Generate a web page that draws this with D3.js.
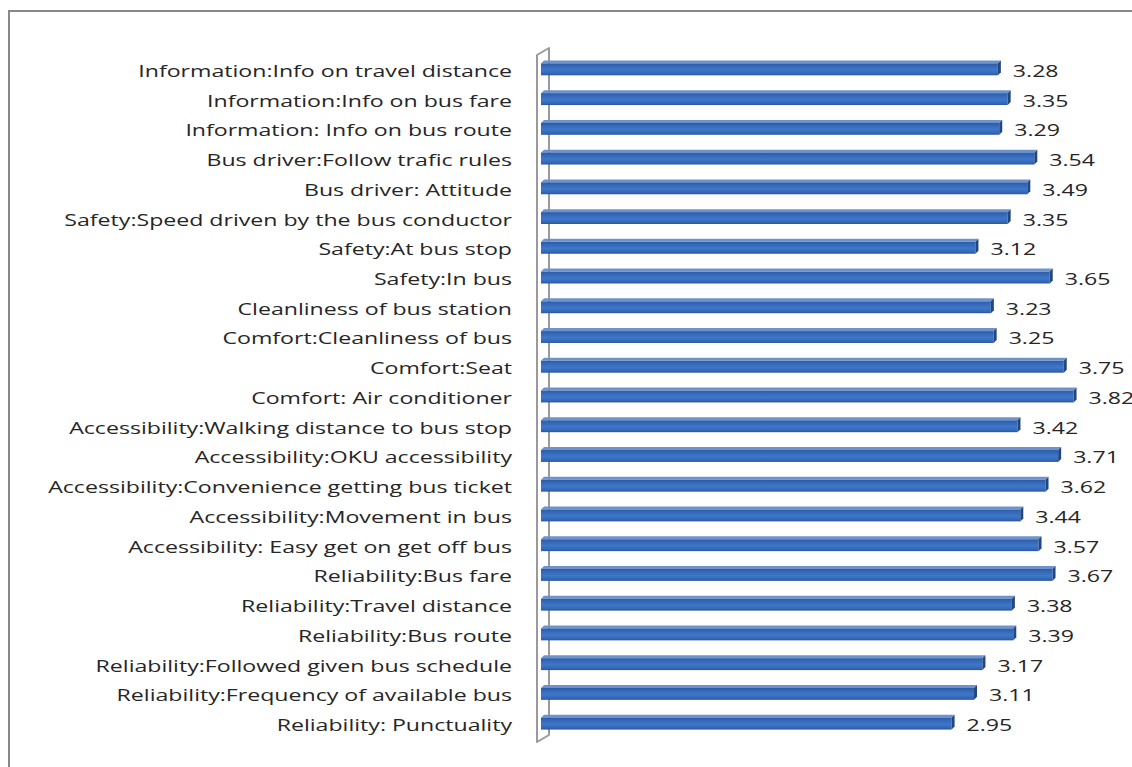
<!DOCTYPE html>
<html>
<head>
<meta charset="utf-8">
<script src="https://d3js.org/d3.v7.min.js"></script>
<style>
  body { margin: 0; background: #fff; }
  .label, .value { font-family: "Open Sans", sans-serif; font-size: 17px; fill: #262626; }
</style>
</head>
<body>
<div id="chart"></div>
<script>
var categories = [
    "Information:Info on travel distance",
    "Information:Info on bus fare",
    "Information: Info on bus route",
    "Bus driver:Follow trafic rules",
    "Bus driver: Attitude",
    "Safety:Speed driven by the bus conductor",
    "Safety:At bus stop",
    "Safety:In bus",
    "Cleanliness of bus station",
    "Comfort:Cleanliness of bus",
    "Comfort:Seat",
    "Comfort: Air conditioner",
    "Accessibility:Walking distance to bus stop",
    "Accessibility:OKU accessibility",
    "Accessibility:Convenience getting bus ticket",
    "Accessibility:Movement in bus",
    "Accessibility: Easy get on get off bus",
    "Reliability:Bus fare",
    "Reliability:Travel distance",
    "Reliability:Bus route",
    "Reliability:Followed given bus schedule",
    "Reliability:Frequency of available bus",
    "Reliability: Punctuality"
];
var scores = [3.28, 3.35, 3.29, 3.54, 3.49, 3.35, 3.12, 3.65, 3.23, 3.25, 3.75, 3.82,
              3.42, 3.71, 3.62, 3.44, 3.57, 3.67, 3.38, 3.39, 3.17, 3.11, 2.95];

var data = categories.map(function (c, i) { return { name: c, value: scores[i] }; });

var width = 1132, height = 767;
var depth = 3;
var stretch = 1.36; // the picture's text is wider than it is tall

var svg = d3.select("#chart").append("svg")
    .attr("width", width)
    .attr("height", height);

// chart frame (runs off the right and bottom of the picture)
svg.append("rect")
    .attr("x", 9).attr("y", 11)
    .attr("width", 1140).attr("height", 780)
    .attr("fill", "#fff")
    .attr("stroke", "#888").attr("stroke-width", 2);

var x = d3.scaleLinear().domain([0, 4]).range([541, 541 + 4 * 140.2]);
var y = d3.scaleBand().domain(categories).range([53, 737]).paddingInner(0.5).paddingOuter(0.25);

// gradient for the bar fronts
var defs = svg.append("defs");
var grad = defs.append("linearGradient").attr("id", "barGrad")
    .attr("x1", 0).attr("y1", 0).attr("x2", 0).attr("y2", 1);
grad.append("stop").attr("offset", "0%").attr("stop-color", "#2c5aa3");
grad.append("stop").attr("offset", "20%").attr("stop-color", "#3467b5");
grad.append("stop").attr("offset", "55%").attr("stop-color", "#3e77ca");
grad.append("stop").attr("offset", "85%").attr("stop-color", "#3467b5");
grad.append("stop").attr("offset", "100%").attr("stop-color", "#2a5599");

// 3d axis wall
svg.append("path")
    .attr("d", "M537,742 L537,55 L549,48 L549,735 Z")
    .attr("fill", "#fff")
    .attr("stroke", "#9a9a9a").attr("stroke-width", 2)
    .attr("stroke-linejoin", "round");

var bars = svg.append("g").selectAll("g.bar").data(data).join("g").attr("class", "bar");

// top face
bars.append("path")
    .attr("d", function (d) {
        var x0 = x(0), x1 = x(d.value) - depth, t = y(d.name) + depth;
        return "M" + x0 + "," + t + " L" + (x0 + depth) + "," + (t - depth) +
            " L" + (x1 + depth) + "," + (t - depth) + " L" + x1 + "," + t + " Z";
    })
    .attr("fill", "#6e93cc");

// front face
bars.append("rect")
    .attr("x", x(0))
    .attr("y", function (d) { return y(d.name) + depth; })
    .attr("width", function (d) { return x(d.value) - depth - x(0); })
    .attr("height", y.bandwidth() - depth)
    .attr("fill", "url(#barGrad)");

// end cap
bars.append("path")
    .attr("d", function (d) {
        var x1 = x(d.value) - depth, t = y(d.name) + depth, b = y(d.name) + y.bandwidth();
        return "M" + x1 + "," + t + " L" + (x1 + depth) + "," + (t - depth) +
            " L" + (x1 + depth) + "," + (b - depth) + " L" + x1 + "," + b + " Z";
    })
    .attr("fill", "#22467f");

function place(px, d) {
    var py = y(d.name) + y.bandwidth() / 2 + 3;
    return "translate(" + px + "," + py + ") scale(" + stretch + ",1)";
}

// category labels
svg.append("g").selectAll("text").data(data).join("text")
    .attr("class", "label")
    .attr("transform", function (d) { return place(512, d); })
    .attr("dy", "0.35em")
    .attr("text-anchor", "end")
    .text(function (d) { return d.name; });

// value labels
svg.append("g").selectAll("text").data(data).join("text")
    .attr("class", "value")
    .attr("transform", function (d) { return place(x(d.value) + 12, d); })
    .attr("dy", "0.35em")
    .text(function (d) { return d3.format(".2f")(d.value); });
</script>
</body>
</html>
